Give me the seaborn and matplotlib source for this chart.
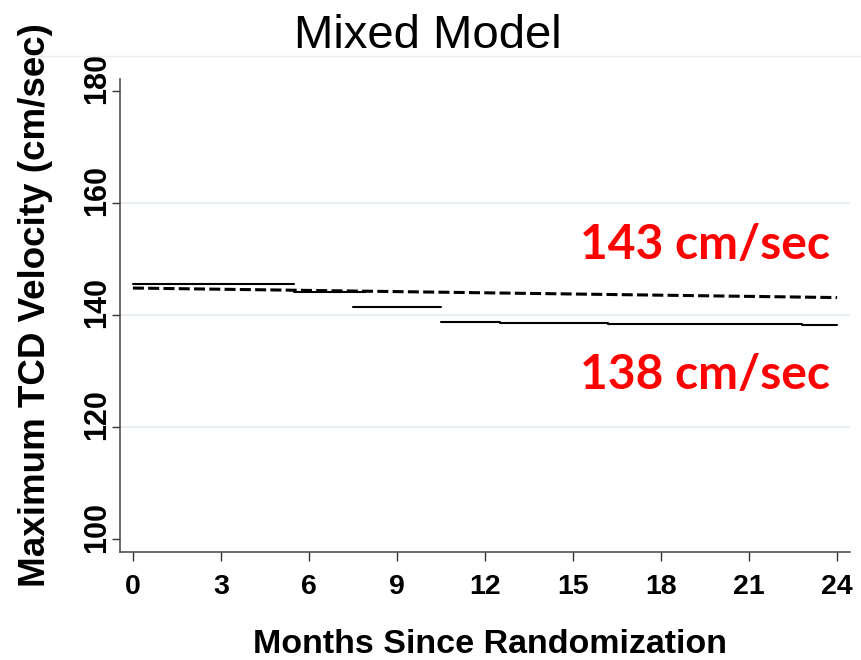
"""
Mixed Model: maximum TCD velocity over months since randomization
"""

import matplotlib
matplotlib.use("Agg")
import matplotlib.pyplot as plt
from matplotlib.lines import Line2D
from matplotlib.transforms import ScaledTranslation
import pandas as pd
import seaborn as sns

# observed means, one flat piece per time window
seg_id = [1, 1, 2, 2, 3, 3, 4, 4, 5, 5, 6, 6, 7, 7, 8, 8]
seg_month = [0, 5.5, 5.5, 7.9, 7.5, 10.5, 10.5, 12.5, 12.5, 16.2, 16.2, 19.4, 19.4, 22.8, 22.8, 24]
seg_velocity = [145.5, 145.5, 144.1, 144.1, 141.5, 141.5, 138.7, 138.7,
                138.55, 138.55, 138.45, 138.45, 138.35, 138.35, 138.2, 138.2]

# mixed model fit
fit_month = [0, 24]
fit_velocity = [144.8, 143.1]

x_ticks = [0, 3, 6, 9, 12, 15, 18, 21, 24]
y_ticks = [100, 120, 140, 160, 180]
grid_y = [120, 140, 160]

label_fit = "143 cm/sec"
label_obs = "138 cm/sec"

sns.set_theme(style="white")
plt.rcParams["font.family"] = ["Liberation Sans", "DejaVu Sans"]
plt.rcParams["text.color"] = "black"
plt.rcParams["axes.labelcolor"] = "black"
plt.rcParams["xtick.color"] = "black"
plt.rcParams["ytick.color"] = "black"

obs = pd.DataFrame({"seg": seg_id, "month": seg_month, "velocity": seg_velocity})
fit = pd.DataFrame({"month": fit_month, "velocity": fit_velocity})

fig = plt.figure(figsize=(8.62, 6.6), dpi=100)
ax = fig.add_axes([120 / 862, 1 - 552 / 660, 730 / 862, 473 / 660])

for g in grid_y:
    ax.axhline(g, color="#e6eef0", lw=1.3, zorder=0)
# thin line along the top of the graph region
fig.add_artist(Line2D([25 / 862, 1], [1 - 56 / 660] * 2, color="#e6eef0", lw=1.0))

sns.lineplot(data=obs, x="month", y="velocity", units="seg", estimator=None,
             color="black", lw=1.5, ax=ax)
sns.lineplot(data=fit, x="month", y="velocity", color="black", lw=2.2,
             dashes=False, ax=ax).lines[-1].set_dashes((3.6, 1.4))

ax.set_xlim(-0.44, 24.44)
ax.set_ylim(97.7, 182.1)
ax.set_xticks(x_ticks)
ax.set_yticks(y_ticks)
ax.set_xticklabels([str(t) for t in x_ticks], fontsize=20.5, fontweight="bold")
ax.set_yticklabels([str(t) for t in y_ticks], fontsize=22, fontweight="bold",
                   rotation=90, va="center")
ax.tick_params(axis="x", bottom=True, direction="out", length=6.5, width=1.0,
               color="#333333", pad=9)
ax.tick_params(axis="y", left=True, direction="out", length=5.8, width=1.0,
               color="#333333", pad=0)
# Stata puts the vertical labels a bit above their ticks
for lab in ax.get_yticklabels():
    lab.set_transform(lab.get_transform() + ScaledTranslation(0, 0.12, fig.dpi_scale_trans))
ax.grid(False)

for side in ["top", "right"]:
    ax.spines[side].set_visible(False)
for side in ["left", "bottom"]:
    ax.spines[side].set_color("#444444")
    ax.spines[side].set_linewidth(1.1)

ax.set_xlabel("Months Since Randomization", fontsize=24.5, fontweight="bold")
ax.xaxis.set_label_coords(0.507, -0.163)
ax.set_ylabel("Maximum TCD Velocity (cm/sec)", fontsize=26.5, fontweight="bold")
ax.yaxis.set_label_coords(-0.092, 0.522)

ax.text(23.75, 152.5, label_fit, color="red", fontsize=34.5, fontweight="bold",
        family=["Lato", "DejaVu Sans"], ha="right", va="center")
ax.text(23.75, 129.3, label_obs, color="red", fontsize=34.5, fontweight="bold",
        family=["Lato", "DejaVu Sans"], ha="right", va="center")

fig.text(428 / 862, 1 - 48 / 660, "Mixed Model", fontsize=34, ha="center", va="baseline")

plt.savefig("out.png", dpi=100)
